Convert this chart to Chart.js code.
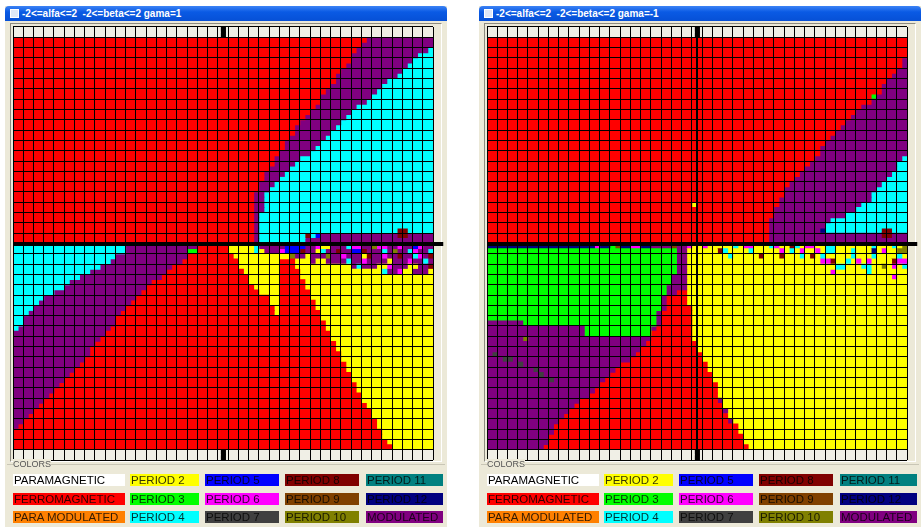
<!DOCTYPE html>
<html>
<head>
<meta charset="utf-8">
<script src="https://cdn.jsdelivr.net/npm/chart.js@4.4.1/dist/chart.umd.min.js"></script>
<style>
  body { margin: 0; width: 924px; height: 527px; overflow: hidden; position: relative; background: #fff; font-family: "Liberation Sans", Arial, sans-serif; }
  .win { position: absolute; top: 6px; width: 442px; height: 521px; background: #ece9d8; }
  .title { position: absolute; left: 0; top: 0; right: 0; height: 15px; background: linear-gradient(#3d83f5, #0a5ae4 40%, #0650d6); color: #fff; font: bold 10px "Liberation Sans", Arial, sans-serif; line-height: 15px; padding-left: 17px; white-space: pre; border-radius: 4px 4px 0 0; }
  .icon { position: absolute; left: 5px; top: 3px; width: 7px; height: 7px; background: #dfe8f7; border: 1px solid #fff; }
  .pic { position: absolute; left: 5px; top: 17px; width: 430px; height: 437px; border: 1px solid #8d8b80; border-right-color: #fff; border-bottom-color: #fff; }
  .win canvas { position: absolute; left: 7px; top: 20px; }
  .grp { position: absolute; left: 2px; top: 458px; width: 438px; height: 62px; border-top: 1px solid #c9c6b6; }
  .grp span { position: absolute; left: 6px; top: -6px; font-size: 9px; line-height: 10px; color: #555; background: #ece9d8; }
  .key { position: absolute; height: 12px; font-size: 11.5px; line-height: 13px; white-space: nowrap; overflow: hidden; color: rgba(0,0,0,0.8); padding-left: 1px; box-sizing: border-box; }
</style>
</head>
<body>
<div class="win" id="win1" style="left:5px"><div class="title"><div class="icon"></div></div><div class="pic"></div><canvas id="mapa1" width="434" height="435"></canvas><div class="grp"><span>COLORS</span></div></div>
<div class="win" id="win2" style="left:479px"><div class="title"><div class="icon"></div></div><div class="pic"></div><canvas id="mapa2" width="434" height="435"></canvas><div class="grp"><span>COLORS</span></div></div>
<script>
// Diagramas de fase: cada linha = meia celula de altura, corridas "cor + comprimento" (em celulas)
var NX = 41 // celulas em alfa (-2..2)
var TITLES = ['-2<=alfa<=2  -2<=beta<=2 gama=1', '-2<=alfa<=2  -2<=beta<=2 gama=-1']
var BORDER_ROW = 'E20.25 X.5 E20.25'

// Cores do programa
var COLORS = {
  W: '#ffffff', R: '#ff0000', O: '#ff8000', Y: '#ffff00', G: '#00ff00',
  C: '#00ffff', B: '#0000ff', M: '#ff00ff', K: '#404040', D: '#800000',
  N: '#804000', L: '#808000', T: '#008080', V: '#000080', P: '#800080',
  E: '#f0efe6', X: '#000000'
}
var LEGEND_CODES = ['W', 'R', 'O', 'Y', 'G', 'C', 'B', 'M', 'K', 'D', 'N', 'L', 'T', 'V', 'P']
var LEGEND_LABELS = ['PARAMAGNETIC', 'FERROMAGNETIC', 'PARA MODULATED', 'PERIOD 2', 'PERIOD 3', 'PERIOD 4',
  'PERIOD 5', 'PERIOD 6', 'PERIOD 7', 'PERIOD 8', 'PERIOD 9', 'PERIOD 10', 'PERIOD 11', 'PERIOD 12', 'MODULATED']

// gama = 1
var ROWS_GAMA_1 = [
  'R34.5 P6.5', 'R34 P7', 'R33.5 P7 C.5', 'R33 P6.5 C1.5', 'R33 P6 C2', 'R32.5 P6 C2.5',
  'R32 P6 C3', 'R31.5 P6 C3.5', 'R31.5 P5 C4.5', 'R31 P5 C5', 'R30.5 P5 C5.5', 'R30 P5 C6',
  'R30 P4.5 C6.5', 'R29.5 P4 C7.5', 'R29 P4 C8', 'R28.5 P4 C8.5', 'R28 P4 C9', 'R27.5 P4 C9.5',
  'R27.5 P3.5 C10', 'R27 P3.5 C10.5', 'R26.5 P3.5 C11', 'R26.5 P3 C11.5', 'R26 P3 C12', 'R25.5 P2.5 C13',
  'R25.5 P2 C13.5', 'R25 P2 C14', 'R24.5 P2 C14.5', 'R24.5 P1.5 C15', 'R24 P1.5 C15.5', 'R24 P1 C16',
  'R23.5 P1 C16.5', 'R23.5 P1 C16.5', 'R23.5 P1 C16.5', 'R23.5 P1 C16.5', 'R23.5 P.5 C17', 'R23.5 P.5 C17',
  'R23.5 P.5 C17', 'R23.5 P.5 C13.5 D1 C2.5', 'R23.5 P.5 C4.5 D.5 C.5 B.5 P7.5 D1 P2.5', 'R23.5 P.5 C4.5 P12.5',
  'C11 P7 R3 Y2.5 C.5 P2.5 B2 P1 M.5 Y1 P1.5 C.5 M1 P1 L.5 M1 P1 M.5 P1 B.5 M.5 P1',
  'C11 P6 G1 R3 Y2.5 C.5 Y.5 P1.5 M.5 B1.5 D.5 P1 Y.5 C.5 P1 D.5 P1 B1 D.5 P1.5 C.5 P.5 L.5 P1 C.5 M.5 P1 C.5',
  'C10 P7 R4.5 Y5.5 L.5 P1 Y.5 P1.5 L.5 P1 M.5 P1.5 Y.5 D.5 P1 M.5 P1 D.5 P1 C.5 M.5 P.5 D.5',
  'C9.5 P7 R5.5 Y4 R1.5 Y1.5 P.5 Y1 P2 C.5 P1 M.5 P2 Y.5 P1.5 M.5 P1 C.5 P.5',
  'C8.5 P7 R6.5 Y4 R1.5 Y5.5 P.5 C.5 P1.5 Y1 M.5 P1.5 Y1 P1 D.5',
  'C7.5 P7.5 R7.5 Y3.5 R2 Y8 C.5 P1 M.5 Y1 P1.5 Y.5',
  'C6.5 P8 R8.5 Y3 R2 Y13', 'C5.5 P8 R9.5 Y3 R2.5 Y12.5', 'C5 P8 R10.5 Y2.5 R2.5 Y12.5', 'C4 P8.5 R11.5 Y2 R3 Y12',
  'C3 P9 R13 Y1 R3 Y12', 'C2.5 P9 R13.5 Y1 R3.5 Y11.5', 'C2 P9 R14.5 Y.5 R3.5 Y11.5', 'C1.5 P9 R15 Y.5 R4 Y11',
  'C1 P9 R20 Y11', 'C1 P9 R20.5 Y10.5', 'C.5 P9 R21 Y10.5', 'P9 R22 Y10', 'P8.5 R22.5 Y10', 'P8 R23.5 Y9.5',
  'P7.5 R24 Y9.5', 'P7.5 R24.5 Y9', 'P7 R25 Y9', 'P6.5 R26 Y8.5', 'P6 R26.5 Y8.5', 'P5.5 R27.5 Y8',
  'P5 R28 Y8', 'P4.5 R29 Y7.5', 'P4 R29.5 Y7.5', 'P3.5 R30.5 Y7', 'P3 R31 Y7', 'P2.5 R32 Y6.5',
  'P2 R33 Y6', 'P1.5 R33.5 Y6', 'P1 R34.5 Y5.5', 'P.5 R35 Y5.5', 'R36 Y5', 'R36 Y5', 'R36.5 Y4.5', 'R37 Y4'
]

// gama = -1
var ROWS_GAMA_M1 = [
  'R41', 'R41', 'R41', 'R41', 'R40.5 P.5', 'R40.5 P.5', 'R40 P1', 'R39.5 P1.5', 'R39 P2', 'R38.5 P2.5',
  'R38.5 P2.5', 'R37.5 G.5 P3', 'R37.5 P3.5', 'R36.5 P4.5', 'R36 P5', 'R35.5 P5.5', 'R35 P6', 'R34.5 P6.5',
  'R34 P7', 'R33.5 P7.5', 'R33 P8', 'R32.5 P8.5', 'R32.5 P8.5', 'R32 P8.5 C.5', 'R31.5 P8.5 C1', 'R31 P9 C1',
  'R30.5 P9 C1.5', 'R30 P9 C2', 'R29.5 P9 C2.5', 'R29 P9 C3', 'R29 P8.5 C3.5', 'R28.5 P9 C3.5',
  'R20 Y.5 R8 P8 C4.5', 'R28 P8 C5', 'R28 P7 C6', 'R27.5 P6 C7.5', 'R27.5 P5.5 C8',
  'R27.5 P5 V.5 C5.5 D1 C1.5', 'R27.5 P11 D1 P1.5', 'R27.5 P13.5',
  'V10.5 M.5 V1 G.5 N.5 V1 M1 V1 P2 N.5 P1 M.5 Y1 M.5 Y2.5 C.5 Y.5 M1 Y1.5 C.5 M.5 Y1 D.5 C.5 Y.5 M1 Y1 C1 Y3.5 C.5 Y1.5 C.5 Y.5 L.5',
  'G18.5 P1 Y3 D.5 C.5 Y2 C.5 Y2.5 M.5 Y.5 C.5 Y.5 M.5 Y1 M.5 Y.5 C1 Y1.5 C.5 Y1.5 V.5 Y.5 M.5 Y1 L1',
  'G18.5 P1 Y4 C.5 Y2.5 D.5 Y1.5 D.5 Y1.5 C.5 Y.5 D.5 Y.5 C.5 Y2.5 C.5 Y1.5 C.5 Y2 C.5 Y.5',
  'G18.5 P1 Y13 M1 D.5 Y1 C.5 Y.5 M.5 Y.5 M.5 Y2 D.5 M1',
  'G18.5 P1 Y14.5 C1 Y1.5 C1 Y1 L.5 Y.5 M.5 Y.5 C.5',
  'G18.5 P1 Y14 M.5 Y3 C.5 Y3.5',
  'G18 P1.5 Y20 M.5 Y1', 'G18 P1.5 Y21.5', 'G17.5 P2 Y21.5', 'G17.5 P1 R1 Y21.5', 'G17 P.5 R2 Y21.5',
  'G17 P.5 R2 Y21.5', 'G17 P.5 R2.5 Y21', 'G16.5 P.5 R3 Y21', 'G16.5 P.5 R3 Y21', 'P3.5 G13 P.5 R3 Y21',
  'P9.5 G6.5 P.5 R3.5 Y21', 'P9.5 G6.5 R4 Y21', 'P3.5 L.5 P12 R4 Y21', 'P15.5 R5 Y20.5', 'P15 R5.5 Y20.5',
  'P.5 K.5 P13.5 R6.5 Y20', 'P1.5 K1 P11.5 R7 Y20', 'P3 K.5 P9.5 R8.5 Y19.5', 'P4.5 K.5 P7.5 R9 Y19.5',
  'P5 K.5 P6.5 R10 Y19', 'P6 K.5 P5 R10.5 Y19', 'P11 R11.5 Y18.5', 'P10.5 R12 Y18.5', 'P10 R12.5 Y18.5',
  'P9 R13.5 P.5 Y18', 'P8.5 R14.5 Y18', 'P8 R15 P.5 Y17.5', 'P7.5 R16 Y17.5', 'P7 R16.5 P.5 Y17',
  'P6.5 R18 Y16.5', 'P6.5 R18 Y16.5', 'P6 R19 Y16', 'P6 R19 Y16', 'P5.5 R20 Y15.5'
]

// Posicao das caixas de cores (colunas x linhas)
var keyLeft = [8, 125, 200, 280, 361]
var keyWidth = [112, 69, 74, 74, 77]
var keyTop = [468, 487, 505]

// Transforma "R20.5 P4" em corridas {c, a, b}
function runs(str) {
  let pos = 0
  return str.split(' ').map(tok => {
    let len = parseFloat(tok.slice(1))
    let r = { c: tok[0], a: pos, b: pos + len }
    pos += len
    return r
  })
}

// Linha grossa do eixo beta=0, passando um pouco da borda direita
var eixoBeta = {
  id: 'eixoBeta',
  afterDraw(chart) {
    let x = chart.scales.x, y = chart.scales.y, area = chart.chartArea
    let half = chart.data.labels.length / 2
    let py = (y.getPixelForValue(half - 1) + y.getPixelForValue(half)) / 2
    let cell = x.getPixelForValue(1) - x.getPixelForValue(0)
    let ctx = chart.ctx
    ctx.save()
    ctx.fillStyle = '#000'
    ctx.fillRect(area.left, Math.round(py) - 2, area.right - area.left + cell, 4)
    ctx.restore()
  }
}

function mapa(canvasId, dataRows, showAxis) {
  let rows = [BORDER_ROW, BORDER_ROW].concat(dataRows, [BORDER_ROW, BORDER_ROW]).map(runs)
  let maxRuns = Math.max(...rows.map(r => r.length))
  let datasets = []
  for (let k = 0; k < maxRuns; k++) {
    datasets.push({
      data: rows.map(r => r[k] ? [r[k].a, r[k].b] : null),
      backgroundColor: rows.map(r => r[k] ? COLORS[r[k].c] : 'rgba(0,0,0,0)')
    })
  }

  new Chart(document.getElementById(canvasId), {
    type: 'bar',
    data: { labels: rows.map((r, i) => i), datasets: datasets },
    plugins: [eixoBeta],
    options: {
      indexAxis: 'y',
      responsive: false,
      animation: false,
      devicePixelRatio: 1,
      layout: { padding: { left: 1, top: 1, bottom: 1, right: 13 } },
      datasets: { bar: { grouped: false, barPercentage: 1, categoryPercentage: 1, borderWidth: 0, inflateAmount: 0.4 } },
      plugins: { legend: { display: false }, tooltip: { enabled: false } },
      scales: {
        x: {
          type: 'linear', min: 0, max: NX,
          ticks: { display: false, stepSize: 0.5, maxTicksLimit: 200 },
          border: { display: false },
          grid: {
            z: 1, drawTicks: false,
            color: ctx => (ctx.tick.value % 1 === 0 || (showAxis && ctx.tick.value === NX / 2)) ? '#000' : 'rgba(0,0,0,0)',
            lineWidth: ctx => (showAxis && ctx.tick.value === NX / 2) ? 2 : 1
          }
        },
        y: {
          type: 'category',
          ticks: { display: false },
          border: { display: false },
          grid: {
            z: 1, drawTicks: false, offset: true,
            color: ctx => (ctx.index === undefined || ctx.index % 2 === 0) ? '#000' : 'rgba(0,0,0,0)'
          }
        }
      }
    }
  })
}

// Janelas: titulo e legenda
function janela(winId, title) {
  let win = document.getElementById(winId)
  win.querySelector('.title').insertAdjacentText('beforeend', title)
  LEGEND_CODES.forEach((code, i) => {
    let col = Math.floor(i / 3), row = i % 3
    win.insertAdjacentHTML('beforeend', `
      <div class="key" style="left:${keyLeft[col]}px;top:${keyTop[row]}px;width:${keyWidth[col]}px;background:${COLORS[code]};${code === 'W' ? 'color:#000' : ''}">${LEGEND_LABELS[i]}</div>`)
  })
}

janela('win1', TITLES[0])
janela('win2', TITLES[1])
mapa('mapa1', ROWS_GAMA_1, false)
mapa('mapa2', ROWS_GAMA_M1, true)
</script>
</body>
</html>
